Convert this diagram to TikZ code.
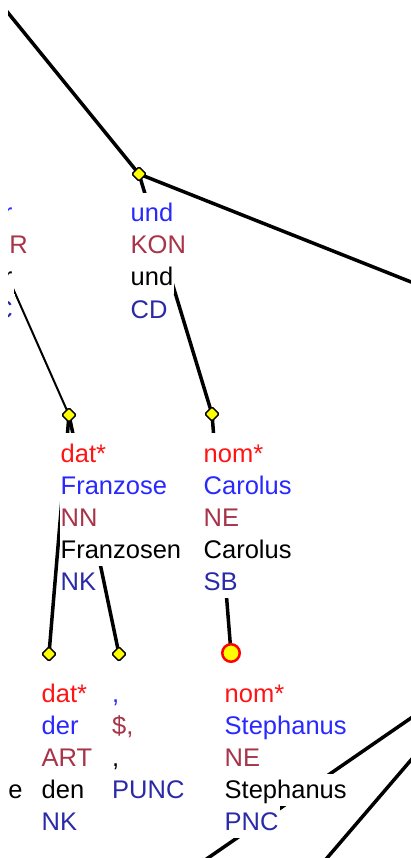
\documentclass[tikz,border=0pt]{standalone}
\usepackage{fontspec}
\setmainfont{Liberation Sans}
\usetikzlibrary{shapes.geometric}
\definecolor{featred}{HTML}{FF1414}
\definecolor{lemblue}{HTML}{2828FF}
\definecolor{posbrown}{HTML}{A8344A}
\definecolor{edgeblue}{HTML}{2A2AA8}
\definecolor{nodeyellow}{HTML}{FFFF00}
\pgfdeclarelayer{edgelayer}
\pgfdeclarelayer{labellayer}
\pgfsetlayers{edgelayer,labellayer,main}
\begin{document}
\begin{tikzpicture}[x=1pt,y=-1pt,
  lbl/.style={anchor=base west, fill=white, inner xsep=1pt, inner ysep=0pt,
              text height=24pt, text depth=8pt, font=\fontsize{25.5}{30}\selectfont},
  toprow/.style={text height=29pt},
  lblr/.style={lbl, anchor=base east, inner xsep=2pt},
  edgeline/.style={line width=3.5pt},
  thinedge/.style={line width=2pt},
  dia/.style={diamond, draw=black, fill=nodeyellow, line width=1.4pt, inner sep=0pt,
              minimum width=15pt, minimum height=15pt, rounded corners=1.5pt},
  selnode/.style={circle, draw=red, fill=nodeyellow, line width=2.5pt, inner sep=0pt,
              minimum size=17.5pt}]
\useasboundingbox (0,0) rectangle (411,858);

% node markers
\node[dia] (dUnd) at (139,174) {};
\node[dia] (dFra) at (69,415) {};
\node[dia] (dCar) at (212,414) {};
\node[dia] (dDer) at (49,654) {};
\node[dia] (dCom) at (119,654) {};
\node[selnode] (sSte) at (231,653) {};

% free ends
\coordinate (ftl) at (-2.4,0);
\coordinate (fr) at (430,289.5);
\coordinate (fl) at (-40,168.7);
\coordinate (fa1) at (190,870.4);
\coordinate (fa2) at (430,704.9);
\coordinate (fb1) at (317,869.7);
\coordinate (fb2) at (425,743.7);

\begin{pgfonlayer}{edgelayer}
\begin{scope}
\clip (8,0) rectangle (411,858);
\draw[edgeline] (dUnd.center) -- (ftl);
\draw[edgeline] (dUnd.center) -- (fr);
\draw[edgeline] (dUnd.center) -- (dCar.center);
\draw[thinedge] (fl) -- (dFra.center);
\draw[edgeline] (dFra.center) -- (dDer.center);
\draw[edgeline] (dFra.center) -- (dCom.center);
\draw[edgeline] (dCar.center) -- (sSte.center);
\draw[edgeline] (fa1) -- (fa2);
\draw[edgeline] (fb1) -- (fb2);
\end{scope}
\end{pgfonlayer}

\begin{pgfonlayer}{labellayer}
\begin{scope}
\clip (8,0) rectangle (411,858);
% left cut-off column
\node[lblr,toprow,text=lemblue] (lLem) at (14.5,222) {r};
\node[lblr,text=posbrown] (lPos) at (30,254) {R};
\node[lblr,text=black] (lForm) at (14.5,286) {r};
\node[lblr,text=edgeblue] (lEdge) at (15,318) {C};
\node[lblr,text=black] (lForm2) at (24.7,798) {e};
% und
\node[lbl,toprow,text=lemblue] (uLem) at (129.5,222) {und};
\node[lbl,text=posbrown] (uPos) at (129.5,254) {KON};
\node[lbl,text=black] (uForm) at (129.5,286) {und};
\node[lbl,text=edgeblue] (uEdge) at (129.5,318) {CD};
% Franzose
\node[lbl,toprow,text=featred] (fFeat) at (59.5,462) {dat*};
\node[lbl,text=lemblue] (fLem) at (59.5,494) {Franzose};
\node[lbl,text=posbrown] (fPos) at (59.5,526) {NN};
\node[lbl,text=black] (fForm) at (59.5,558) {Franzosen};
\node[lbl,text=edgeblue] (fEdge) at (59.5,590) {NK};
% Carolus
\node[lbl,toprow,text=featred] (cFeat) at (202.5,462) {nom*};
\node[lbl,text=lemblue] (cLem) at (202.5,494) {Carolus};
\node[lbl,text=posbrown] (cPos) at (202.5,526) {NE};
\node[lbl,text=black] (cForm) at (202.5,558) {Carolus};
\node[lbl,text=edgeblue] (cEdge) at (202.5,590) {SB};
% der
\node[lbl,toprow,text=featred] (dFeat) at (40.5,702) {dat*};
\node[lbl,text=lemblue] (dLem) at (40.5,734) {der};
\node[lbl,text=posbrown] (dPos) at (40.5,766) {ART};
\node[lbl,text=black] (dForm) at (40.5,798) {den};
\node[lbl,text=edgeblue] (dEdge) at (40.5,830) {NK};
% comma
\node[lbl,toprow,text=lemblue] (kLem) at (111,702) {,};
\node[lbl,text=posbrown] (kPos) at (111,734) {\$,};
\node[lbl,text=black] (kForm) at (111,766) {,};
\node[lbl,text=edgeblue] (kEdge) at (111,798) {PUNC};
% Stephanus
\node[lbl,toprow,text=featred] (sFeat) at (223.5,702) {nom*};
\node[lbl,text=lemblue] (sLem) at (223.5,734) {Stephanus};
\node[lbl,text=posbrown] (sPos) at (223.5,766) {NE};
\node[lbl,text=black] (sForm) at (223.5,798) {Stephanus};
\node[lbl,text=edgeblue] (sEdge) at (223.5,830) {PNC};
\end{scope}
\end{pgfonlayer}
\end{tikzpicture}
\end{document}
